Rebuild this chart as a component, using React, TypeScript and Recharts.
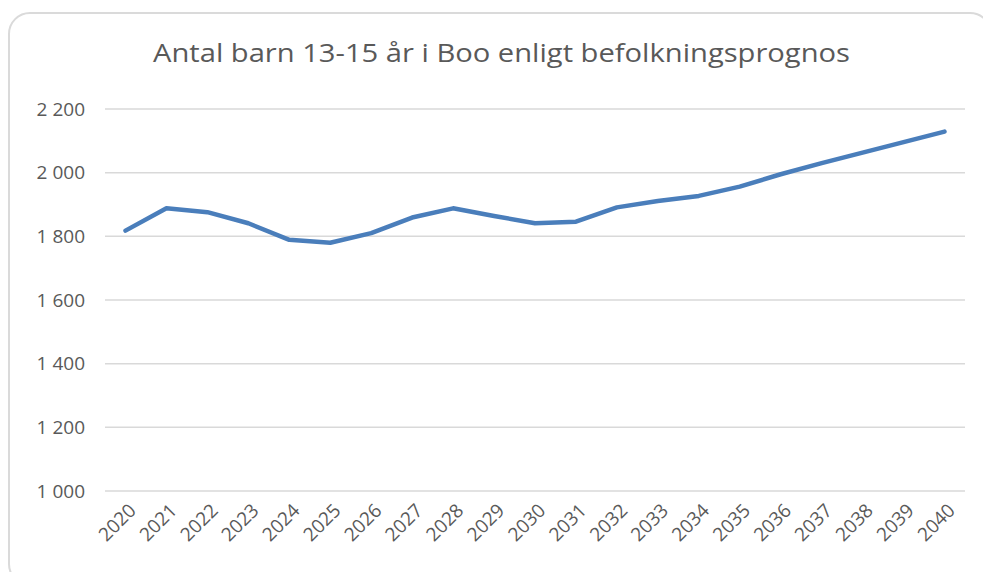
import React from "react";
import { LineChart, Line, XAxis, YAxis, CartesianGrid } from "recharts";

const TITLE = "Antal barn 13-15 år i Boo enligt befolkningsprognos";
const years = ["2020","2021","2022","2023","2024","2025","2026","2027","2028","2029","2030","2031","2032","2033","2034","2035","2036","2037","2038","2039","2040"];
const children = [1818,1888,1876,1841,1789,1780,1810,1859,1888,1864,1841,1846,1891,1911,1927,1956,1995,2030,2063,2096,2129];
const yTicks = [1000,1200,1400,1600,1800,2000,2200];

const data = years.map((y, i) => ({ year: y, value: children[i] }));

const FONT = "'Open Sans', 'Noto Sans', sans-serif";
const TEXT = "#595959";

const fmt = (v: number) => {
  const s = String(v);
  return s.length > 3 ? s.slice(0, s.length - 3) + " " + s.slice(-3) : s;
};

const XTick = (props: any) => {
  const { x, y, payload } = props;
  const ax = x + 7;
  const ay = y + 16;
  return (
    <text
      x={ax}
      y={ay}
      transform={`rotate(-45, ${ax}, ${ay})`}
      textAnchor="end"
      fill={TEXT}
      fontSize={19}
      fontFamily={FONT}
      dy="0.35em"
    >
      {payload.value}
    </text>
  );
};

export default function App() {
  return (
    <div style={{ position: "fixed", left: 0, top: 0, width: 983, height: 572, overflow: "hidden", background: "#fff" }}>
      <div
        style={{
          position: "absolute",
          left: 8,
          top: 12,
          width: 984,
          height: 574,
          border: "2px solid #dadada",
          borderRadius: 22,
          boxSizing: "border-box",
        }}
      />
      <div style={{ position: "absolute", left: 0, top: 0 }}>
        <LineChart
          width={983}
          height={572}
          data={data}
          margin={{ top: 109, right: 18, left: 25, bottom: 21 }}
        >
          <text
            x={501.5}
            y={62}
            textAnchor="middle"
            fill={TEXT}
            fontSize={26}
            fontFamily={FONT}
            textLength={697}
            lengthAdjust="spacingAndGlyphs"
          >
            {TITLE}
          </text>
          <CartesianGrid vertical={false} stroke="#d9d9d9" strokeWidth={1.5} />
          <XAxis
            dataKey="year"
            height={60}
            interval={0}
            axisLine={false}
            tickLine={false}
            tickSize={0}
            tickMargin={0}
            padding={{ left: 20.5, right: 20.5 }}
            tick={<XTick />}
          />
          <YAxis
            width={80}
            domain={[1000, 2200]}
            ticks={yTicks}
            type="number"
            axisLine={false}
            tickLine={false}
            tickSize={0}
            tickMargin={20}
            tickFormatter={fmt}
            tick={{ fill: TEXT, fontSize: 19, fontFamily: FONT }}
          />
          <Line
            type="linear"
            dataKey="value"
            stroke="#4a7ebb"
            strokeWidth={4.5}
            dot={false}
            isAnimationActive={false}
            strokeLinejoin="round"
            strokeLinecap="round"
          />
        </LineChart>
      </div>
    </div>
  );
}
